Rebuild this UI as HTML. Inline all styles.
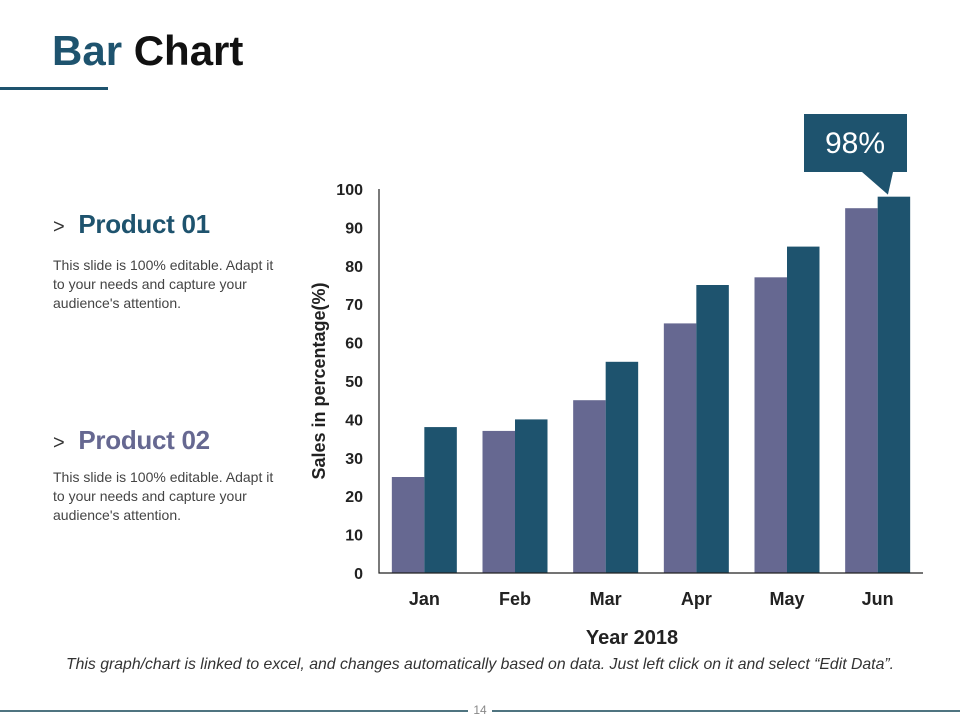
<!DOCTYPE html>
<html><head><meta charset="utf-8"><style>
body{margin:0;width:960px;height:720px;background:#fff;font-family:"Liberation Sans",sans-serif;position:relative;overflow:hidden}
.abs{position:absolute}
.title{left:52px;top:27px;font-size:42px;font-weight:bold;color:#111;letter-spacing:0}
.title span{color:#1e536e}
.ph{font-size:26px;font-weight:bold;color:#1e536e;letter-spacing:-0.3px}
.ph b{font-weight:normal;color:#333;font-size:20px;margin-right:14px}
.desc{font-size:14px;color:#444;line-height:19px;width:228px}
</style></head><body>
<div class="abs title"><span>Bar</span> Chart</div>
<div class="abs" style="left:0;top:87px;width:108px;height:3px;background:#1e536e"></div>
<div class="abs ph" style="left:53px;top:209px"><b>&gt;</b>Product 01</div>
<div class="abs desc" style="left:53px;top:256px">This slide is 100% editable. Adapt it to your needs and capture your audience's attention.</div>
<div class="abs ph" style="left:53px;top:425px;color:#666891"><b>&gt;</b>Product 02</div>
<div class="abs desc" style="left:53px;top:468px">This slide is 100% editable. Adapt it to your needs and capture your audience's attention.</div>
<svg class="abs" style="left:0;top:0" width="960" height="720">
<g id="g"></g>
</svg>
<div class="abs" style="left:0;width:960px;top:656px;text-align:center;font-size:15.8px;font-style:italic;color:#333">This graph/chart is linked to excel, and changes automatically based on data. Just left click on it and select “Edit Data”.</div>
<div class="abs" style="left:0;top:710px;width:960px;height:2px;background:#4f7480"></div>
<div class="abs" style="left:468px;top:703px;width:24px;text-align:center;background:#fff;font-size:12px;color:#888">14</div>
<script>
const categories=["Jan","Feb","Mar","Apr","May","Jun"];
const product01=[25,37,45,65,77,95];
const product02=[38,40,55,75,85,98];
const yTicks=[0,10,20,30,40,50,60,70,80,90,100];
const calloutLabel="98%";
const NS="http://www.w3.org/2000/svg";
const g=document.getElementById('g');
const x0=379,x1=923,y0=573,y100=189;
const band=(x1-x0)/categories.length,bw=32.5;
const y=v=>y0-(v/100)*(y0-y100);
const xc=i=>x0+band*(i+0.5);
function mk(t,a){const e=document.createElementNS(NS,t);for(const k in a)e.setAttribute(k,a[k]);g.appendChild(e);return e;}
yTicks.forEach(v=>{const t=mk('text',{x:363,y:y(v)+6,'text-anchor':'end','font-size':16,'font-weight':'bold',fill:'#222'});t.textContent=v;

});
categories.forEach((c,i)=>{
const a=mk('rect',{x:xc(i)-bw,y:y(product01[i]),width:bw,height:y0-y(product01[i]),fill:'#666891'});


const b=mk('rect',{x:xc(i),y:y(product02[i]),width:bw,height:y0-y(product02[i]),fill:'#1e536e'});


const t=mk('text',{x:xc(i),y:605,'text-anchor':'middle','font-size':18,'font-weight':'bold',fill:'#222'});t.textContent=c;


});
const ax=mk('path',{d:`M${x0} ${y100}V${y0}H${x1}`,stroke:'#222','stroke-width':1.2,fill:'none'});


const yt=mk('text',{transform:'translate(325,381) rotate(-90)','text-anchor':'middle','font-size':18,'font-weight':'bold',fill:'#222'});yt.textContent='Sales in percentage(%)';


const xt=mk('text',{x:632,y:644,'text-anchor':'middle','font-size':20,'font-weight':'bold',fill:'#222'});xt.textContent='Year 2018';


const li=categories.length-1,tx=xc(li)+bw/2,ty=y(product02[li]);
const cb=mk('path',{d:`M804 114H907V172H893L${tx-6} ${ty-2}L862 172H804Z`,fill:'#1e536e'});


const ct=mk('text',{x:855,y:153,'text-anchor':'middle','font-size':30,fill:'#fff'});ct.textContent=calloutLabel;


</script>
</body></html>
